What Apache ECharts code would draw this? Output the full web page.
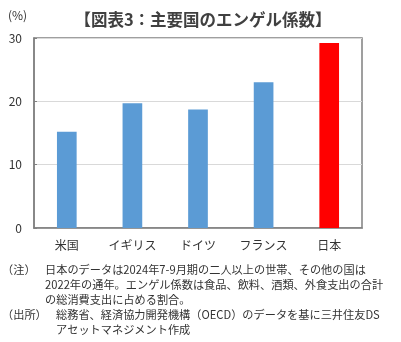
<!DOCTYPE html>
<html><head><meta charset="utf-8">
<script src="https://cdn.jsdelivr.net/npm/echarts@6/dist/echarts.min.js"></script>
<style>html,body{margin:0;padding:0;background:#fff}#c{width:401px;height:342px}</style>
</head><body><div id="c"></div>
<script>
const categories = ['米国', 'イギリス', 'ドイツ', 'フランス', '日本'];
const values = [15.2, 19.7, 18.7, 23.0, 29.2];
const barColors = ['#5B9BD5', '#5B9BD5', '#5B9BD5', '#5B9BD5', '#FF0000'];
const yTicks = { min: 0, max: 30, interval: 10 };
const titleText = '【図表3：主要国のエンゲル係数】';
const unitText = '(%)';
const noteLines = [
  ['（注）', '日本のデータは2024年7-9月期の二人以上の世帯、その他の国は'],
  ['', '2022年の通年。エンゲル係数は食品、飲料、酒類、外食支出の合計'],
  ['', 'の総消費支出に占める割合。'],
  ['（出所）', '総務省、経済協力開発機構（OECD）のデータを基に三井住友DS'],
  ['', 'アセットマネジメント作成']
];
const font = '"Noto Sans CJK JP", "Noto Sans", sans-serif';
const chart = echarts.init(document.getElementById('c'), null, { renderer: 'canvas' });
const graphics = [];
const noteY = [272, 287, 302, 317, 332];
noteLines.forEach((l, i) => {
  if (l[0]) graphics.push({ type: 'text', left: 2, top: noteY[i] - 8, style: { text: l[0], font: '11.2px ' + font, fill: '#333' } });
  const x = i <= 2 ? 45 : 56;
  graphics.push({ type: 'text', left: x, top: noteY[i] - 8, style: { text: l[1], font: '11.2px ' + font, fill: '#333' } });
});
graphics.push({ type: 'text', left: 8, top: 9, style: { text: unitText, font: '12px ' + font, fill: '#333' } });
chart.setOption({
  animation: false,
  title: { text: titleText, left: 198, top: 6, textAlign: 'center', textStyle: { fontFamily: font, fontSize: 16.5, fontWeight: 'bold', color: '#404040' } },
  graphic: graphics,
  grid: { left: 34, right: 39, top: 38, bottom: 114, show: true, borderColor: '#808080', borderWidth: 1.5 },
  xAxis: {
    type: 'category', data: categories,
    axisLine: { lineStyle: { color: '#808080', width: 1.5 } },
    axisTick: { inside: true, length: 4, lineStyle: { color: '#808080' } },
    axisLabel: { fontFamily: font, fontSize: 12, color: '#333', margin: 11 }
  },
  yAxis: {
    type: 'value', min: yTicks.min, max: yTicks.max, interval: yTicks.interval,
    axisLine: { show: true, lineStyle: { color: '#808080', width: 1.5 } },
    axisTick: { show: true, inside: true, length: 3, lineStyle: { color: '#808080' } },
    axisLabel: { fontFamily: font, fontSize: 12, color: '#333', margin: 12 },
    splitLine: { lineStyle: { color: '#d9d9d9', width: 1 } }
  },
  series: [{
    type: 'bar', barWidth: '30%',
    data: values.map((v, i) => ({ value: v, itemStyle: { color: barColors[i] } }))
  }]
});
</script></body></html>
